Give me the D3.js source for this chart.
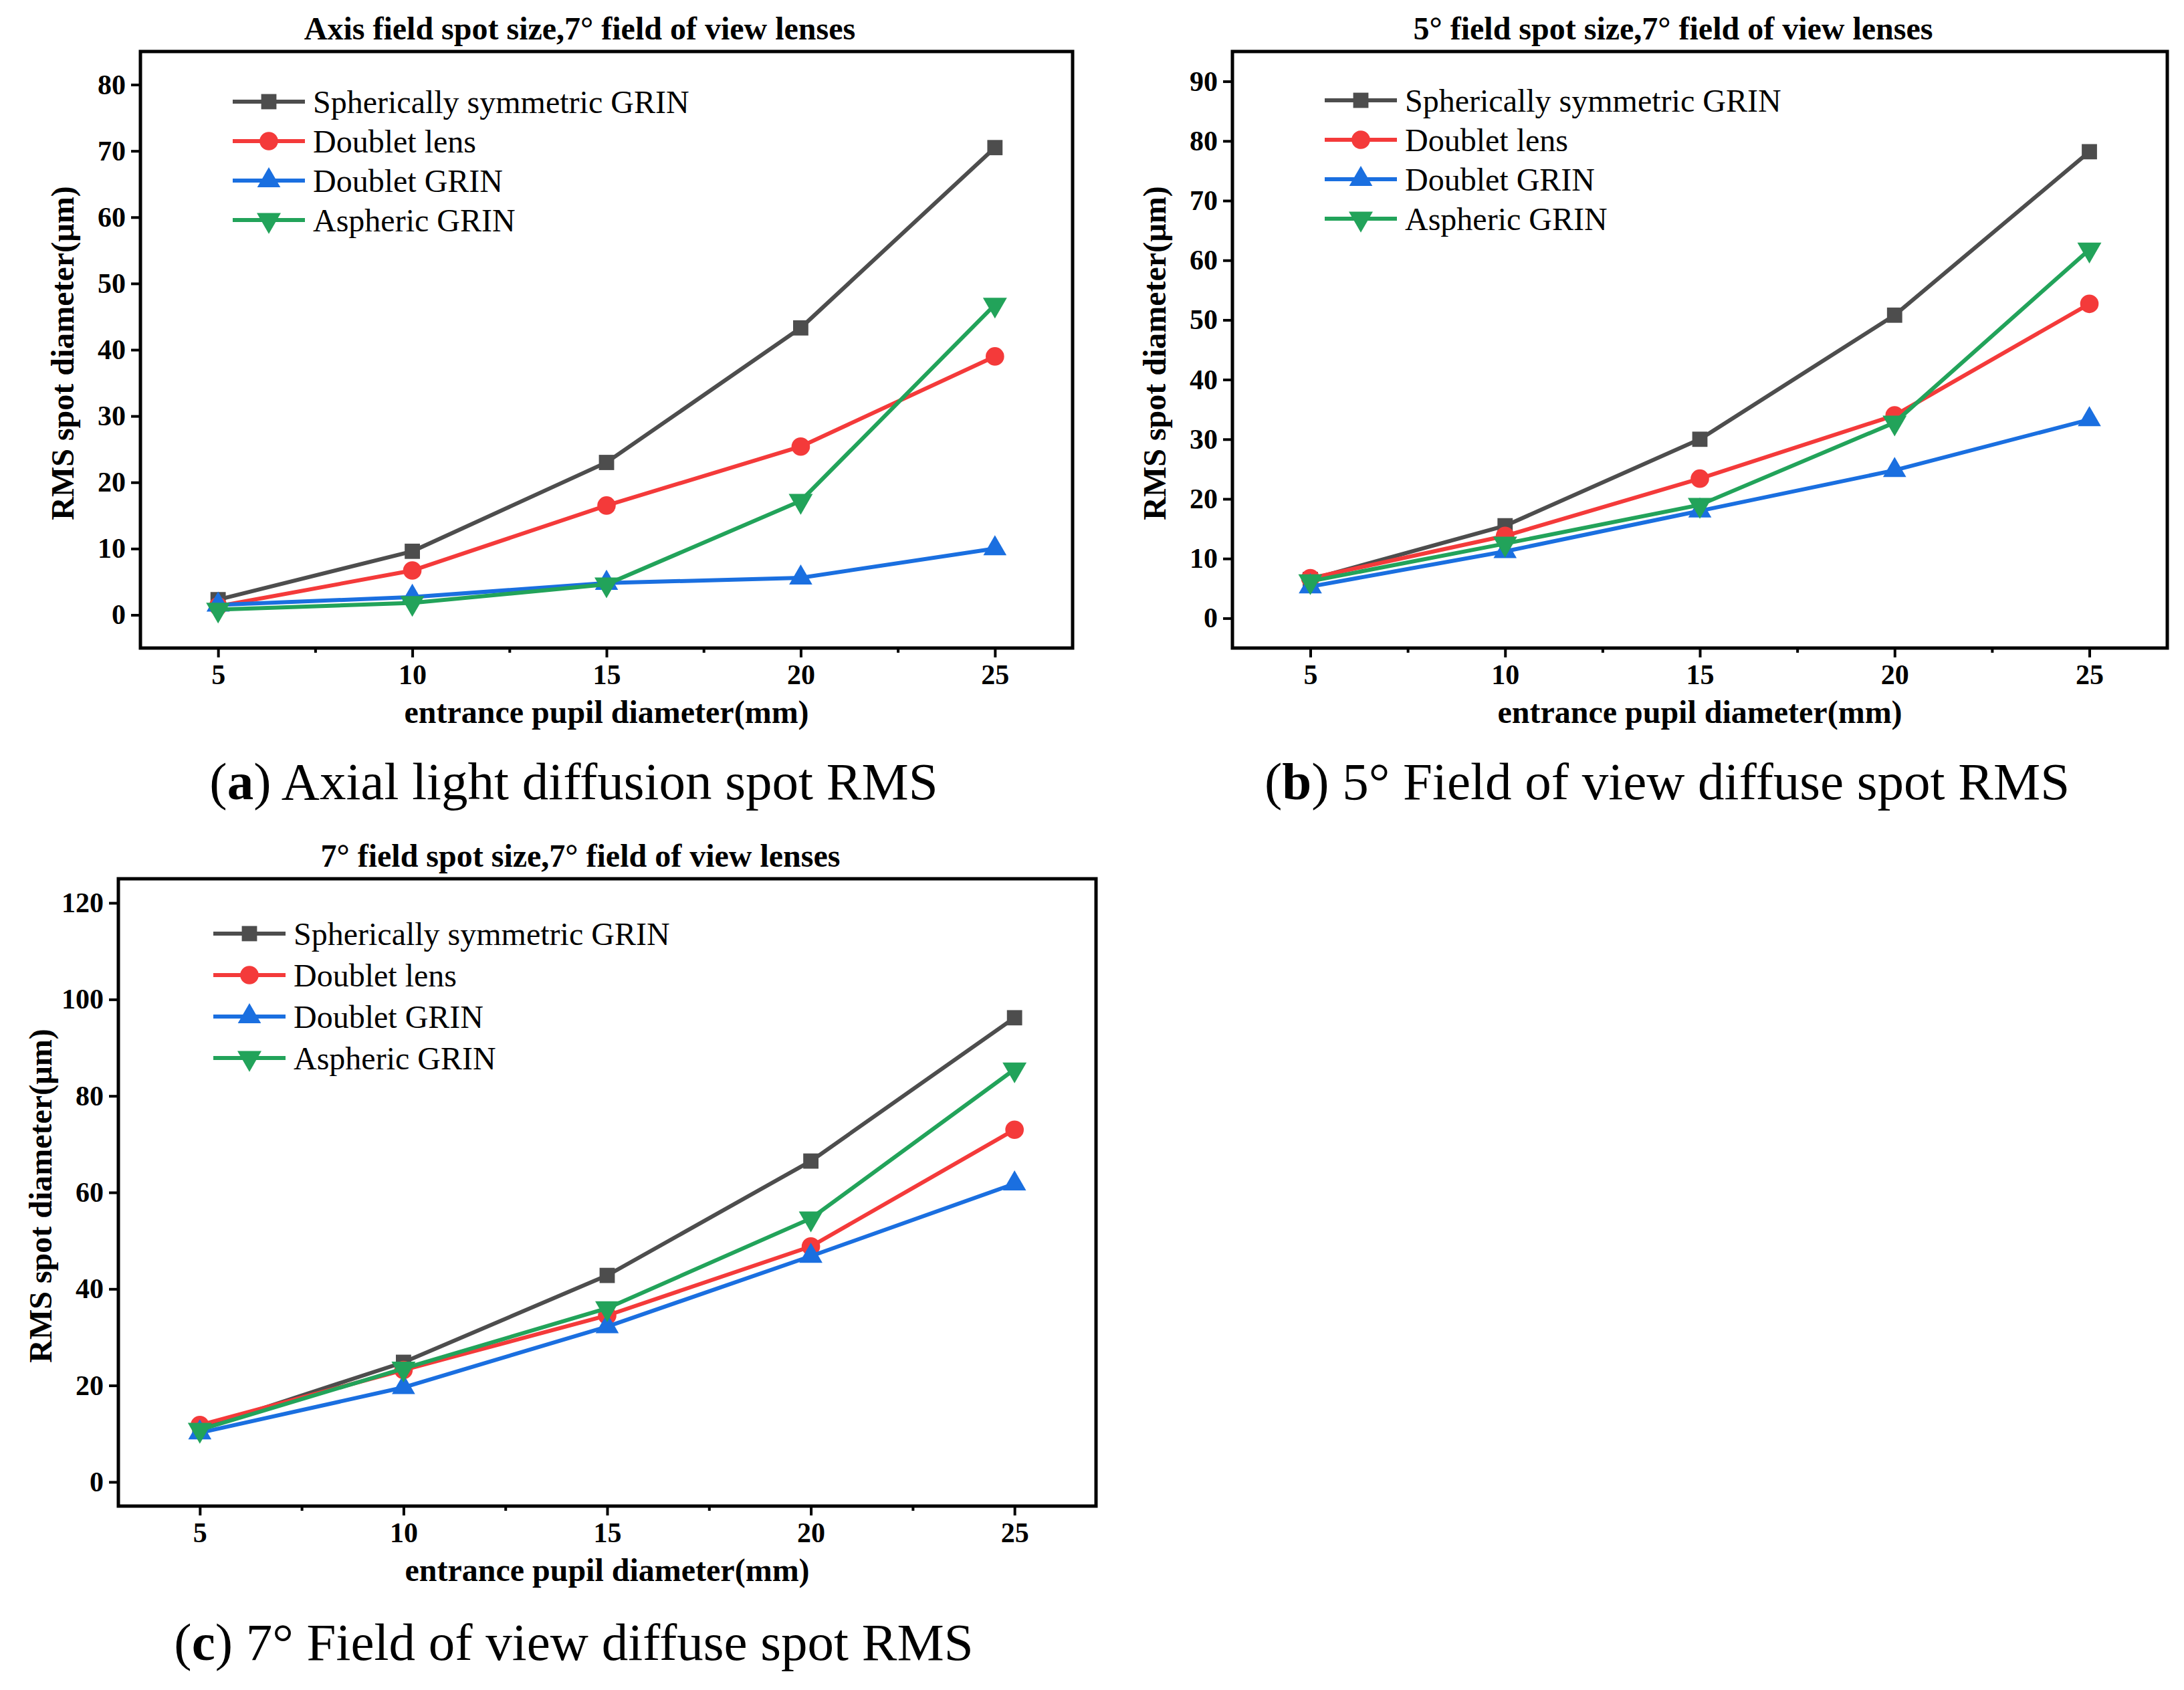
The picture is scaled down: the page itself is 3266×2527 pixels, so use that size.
<!DOCTYPE html>
<html lang="en">
<head>
<meta charset="UTF-8">
<title>RMS spot diameter</title>
<script src="https://d3js.org/d3.v7.min.js"></script>
<style>
  body { margin: 0; background: #fff; }
  text { font-family: "Liberation Serif", "Times New Roman", serif; }
</style>
</head>
<body>
<script>
    // data
    const pupil = [5, 10, 15, 20, 25];
    const seriesNames = ['Spherically symmetric GRIN', 'Doublet lens', 'Doublet GRIN', 'Aspheric GRIN'];

    const axialValues = [
        [2.3, 9.6, 23, 43.3, 70.5],
        [1.3, 6.7, 16.5, 25.4, 39],
        [1.5, 2.7, 4.8, 5.6, 10],
        [0.8, 1.8, 4.6, 17.2, 46.8]
    ];
    const field5Values = [
        [6.5, 15.5, 30, 50.8, 78.2],
        [6.7, 13.8, 23.4, 34, 52.7],
        [5.3, 11.2, 18, 24.8, 33.3],
        [6.2, 12.5, 19, 32.8, 61.8]
    ];
    const field7Values = [
        [11, 24.8, 42.8, 66.5, 96.2],
        [11.8, 23.2, 34.5, 48.8, 73],
        [10.2, 19.6, 32.2, 46.8, 61.8],
        [10.8, 23.5, 36, 54.6, 85.5]
    ];
    const axialTicks = [0, 10, 20, 30, 40, 50, 60, 70, 80];
    const field5Ticks = [0, 10, 20, 30, 40, 50, 60, 70, 80, 90];
    const field7Ticks = [0, 20, 40, 60, 80, 100, 120];

    const colors = ['#4d4d4d', '#f43a3a', '#1a6fe0', '#22a35a'];
    const symbols = [d3.symbolSquare, d3.symbolCircle, d3.symbolTriangle, 'down'];

    const svg = d3.select('body').append('svg')
        .attr('width', 3266).attr('height', 2527);

    function marker(g, i, x, y) {
        if (symbols[i] === 'down') {
            g.append('path').attr('d', d3.symbol(d3.symbolTriangle, 560)())
                .attr('transform', `translate(${x},${y}) rotate(180)`)
                .attr('fill', colors[i]);
        } else {
            g.append('path').attr('d', d3.symbol(symbols[i], symbols[i] === d3.symbolCircle ? 600 : 520)())
                .attr('transform', `translate(${x},${y})`)
                .attr('fill', colors[i]);
        }
    }

    function drawPanel(cfg) {
        const g = svg.append('g');
        const x = d3.scaleLinear().domain([3, 27]).range([cfg.left, cfg.right]);
        const y = d3.scaleLinear().domain(cfg.yDomain).range([cfg.bottom, cfg.top]);

        // axes
        g.append('g').attr('transform', `translate(${cfg.left},0)`)
            .call(d3.axisLeft(y).tickValues(cfg.ticks).tickSize(14).tickPadding(8));
        g.append('g').attr('transform', `translate(0,${cfg.bottom})`)
            .call(d3.axisBottom(x).tickValues(pupil).tickSize(14).tickPadding(10));
        g.append('g').attr('transform', `translate(0,${cfg.bottom})`)
            .call(d3.axisBottom(x).tickValues([7.5, 12.5, 17.5, 22.5]).tickSize(7).tickFormat(''));
        g.selectAll('.domain').remove();
        g.selectAll('.tick line').attr('stroke', '#000').attr('stroke-width', 4);
        g.selectAll('.tick text').attr('font-size', 42).attr('font-weight', 'bold')
            .attr('font-family', '"Liberation Serif", serif').attr('fill', '#000');

        g.append('rect').attr('x', cfg.left).attr('y', cfg.top)
            .attr('width', cfg.right - cfg.left).attr('height', cfg.bottom - cfg.top)
            .attr('fill', 'none').attr('stroke', '#000').attr('stroke-width', 5);

        // series
        const line = d3.line().x((d, k) => x(pupil[k])).y(d => y(d));
        cfg.values.forEach((vals, i) => {
            g.append('path').attr('d', line(vals)).attr('fill', 'none')
                .attr('stroke', colors[i]).attr('stroke-width', 6);
            vals.forEach((v, k) => marker(g, i, x(pupil[k]), y(v)));
        });

        // legend
        seriesNames.forEach((name, i) => {
            const ly = cfg.legY + i * cfg.legStep;
            g.append('line').attr('x1', cfg.legX).attr('x2', cfg.legX + 108)
                .attr('y1', ly).attr('y2', ly).attr('stroke', colors[i]).attr('stroke-width', 6);
            marker(g, i, cfg.legX + 54, ly);
            g.append('text').attr('x', cfg.legX + 120).attr('y', ly).attr('dy', '0.35em')
                .attr('font-size', 48).text(name);
        });

        // titles
        g.append('text').attr('x', (cfg.left + cfg.right) / 2 - 40).attr('y', cfg.top - 18)
            .attr('text-anchor', 'middle').attr('font-size', 48).attr('font-weight', 'bold').text(cfg.title);
        g.append('text').attr('x', (cfg.left + cfg.right) / 2).attr('y', cfg.bottom + 112)
            .attr('text-anchor', 'middle').attr('font-size', 48).attr('font-weight', 'bold')
            .text('entrance pupil diameter(mm)');
        g.append('text').attr('transform', `translate(${cfg.left - 100},${(cfg.top + cfg.bottom) / 2 + 5}) rotate(-90)`)
            .attr('text-anchor', 'middle').attr('font-size', 48).attr('font-weight', 'bold')
            .text('RMS spot diameter(µm)');

        const cap = g.append('text').attr('x', cfg.capX).attr('y', cfg.capY)
            .attr('text-anchor', 'middle').attr('font-size', 79)
            .attr('font-family', '"DejaVu Serif", "Liberation Serif", serif');
        cap.append('tspan').text('(');
        cap.append('tspan').attr('font-weight', 'bold').text(cfg.letter);
        cap.append('tspan').text(') ' + cfg.caption);
    }

    drawPanel({
        left: 210, right: 1604, top: 77, bottom: 969, yDomain: [-5, 85], ticks: axialTicks,
        values: axialValues, legX: 348, legY: 152, legStep: 59,
        title: 'Axis field spot size,7° field of view lenses',
        letter: 'a', caption: 'Axial light diffusion spot RMS', capX: 858, capY: 1195
    });
    drawPanel({
        left: 1843, right: 3241, top: 77, bottom: 969, yDomain: [-5, 95], ticks: field5Ticks,
        values: field5Values, legX: 1981, legY: 150, legStep: 59,
        title: '5° field spot size,7° field of view lenses',
        letter: 'b', caption: '5° Field of view diffuse spot RMS', capX: 2493, capY: 1195
    });
    drawPanel({
        left: 177, right: 1639, top: 1314, bottom: 2252, yDomain: [-5, 125], ticks: field7Ticks,
        values: field7Values, legX: 319, legY: 1396, legStep: 62,
        title: '7° field spot size,7° field of view lenses',
        letter: 'c', caption: '7° Field of view diffuse spot RMS', capX: 858, capY: 2482
    });
</script>
</body>
</html>
